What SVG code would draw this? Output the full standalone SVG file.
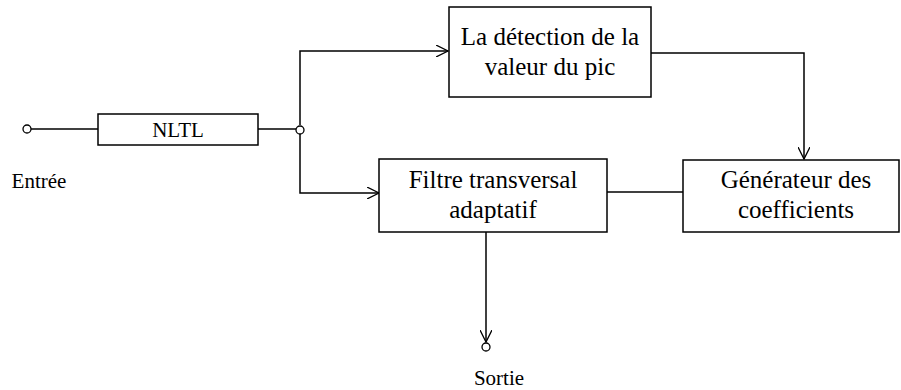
<svg xmlns="http://www.w3.org/2000/svg" width="901" height="390" viewBox="0 0 901 390">
<defs>
<style>
.box{fill:#fff;stroke:#000;stroke-width:1.5}
.ln{fill:none;stroke:#000;stroke-width:1.5}
.pt{fill:#fff;stroke:#000;stroke-width:1.3}
.tx{font-family:'Liberation Serif','DejaVu Serif',serif;fill:#000;text-anchor:middle}
.t{font-size:25px}
.s{font-size:21px}
</style>
<marker id="arr" markerWidth="14" markerHeight="12" refX="12" refY="6" orient="auto" markerUnits="userSpaceOnUse">
<path d="M0,0 L12,6 L0,12" fill="none" stroke="#000" stroke-width="1.3"/>
</marker>
</defs>
<rect width="901" height="390" fill="#fff"/>
<g id="connectors">
<path class="ln" d="M31,129 H98"/>
<path class="ln" d="M258,129 H296"/>
<path class="ln" d="M300,125 V51 H448" marker-end="url(#arr)"/>
<path class="ln" d="M300,134 V193 H379" marker-end="url(#arr)"/>
<path class="ln" d="M651,53 H804 V159" marker-end="url(#arr)"/>
<path class="ln" d="M607,192 H683"/>
<path class="ln" d="M486,232 V342" marker-end="url(#arr)"/>
</g>
<g id="input">
<circle class="pt" cx="27" cy="129" r="4"/>
<text class="tx s" font-family="Liberation Serif, serif" x="39" y="188">Entrée</text>
</g>
<g id="nltl">
<rect class="box" x="98" y="114" width="160" height="31"/>
<text class="tx s" font-family="Liberation Serif, serif" x="178" y="137">NLTL</text>
</g>
<g id="junction">
<circle class="pt" cx="300" cy="130" r="4"/>
</g>
<g id="peak">
<rect class="box" x="449" y="7" width="202" height="90"/>
<text class="tx t" font-family="Liberation Serif, serif" x="550" y="45">La détection de la</text>
<text class="tx t" font-family="Liberation Serif, serif" x="550" y="75">valeur du pic</text>
</g>
<g id="filter">
<rect class="box" x="379" y="159" width="228" height="73"/>
<text class="tx t" font-family="Liberation Serif, serif" x="493" y="188">Filtre transversal</text>
<text class="tx t" font-family="Liberation Serif, serif" x="493" y="218">adaptatif</text>
</g>
<g id="generator">
<rect class="box" x="683" y="160" width="216" height="72"/>
<text class="tx t" font-family="Liberation Serif, serif" x="796" y="188">Générateur des</text>
<text class="tx t" font-family="Liberation Serif, serif" x="796" y="218">coefficients</text>
</g>
<g id="output">
<circle class="pt" cx="486" cy="347" r="4"/>
<text class="tx s" font-family="Liberation Serif, serif" x="499" y="385">Sortie</text>
</g>
</svg>
